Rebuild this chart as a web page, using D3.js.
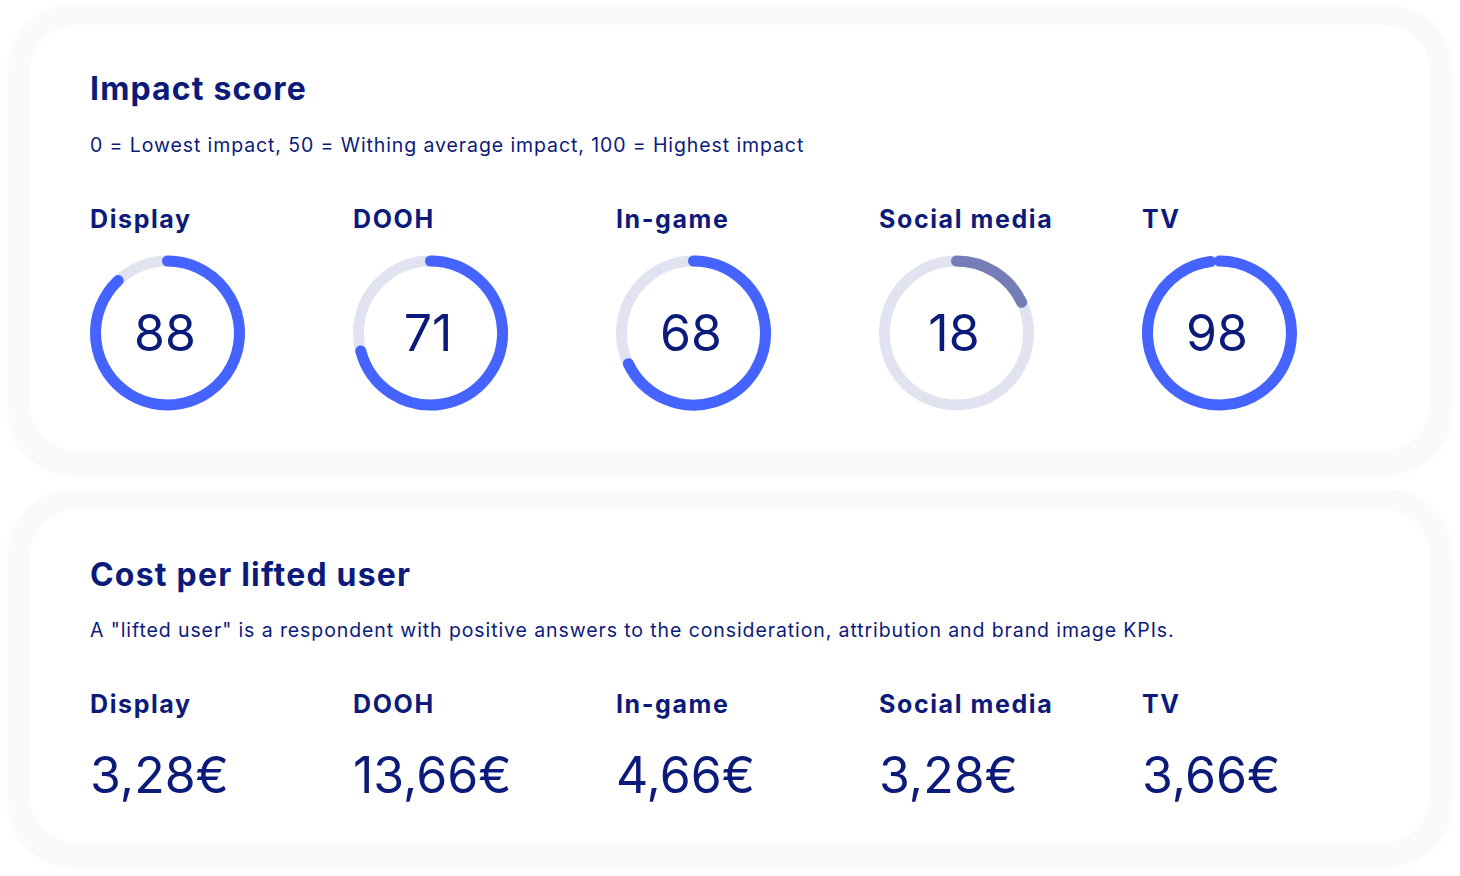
<!DOCTYPE html>
<html>
<head>
<meta charset="utf-8">
<script src="https://cdn.jsdelivr.net/npm/d3@7"></script>
<style>
  html, body { margin: 0; padding: 0; background: #ffffff; }
  svg { display: block; }
  text { font-family: "Inter", "Noto Sans", sans-serif; fill: #0c1b7a; }
</style>
</head>
<body>
<svg id="chart" width="1460" height="876"></svg>
<script>
// ---- data ----
const categories = ["Display", "DOOH", "In-game", "Social media", "TV"];
const impactScores = [88, 71, 68, 18, 98];
const costPerLiftedUser = [3.28, 13.66, 4.66, 3.28, 3.66];
const impactTitle = "Impact score";
const impactSubtitle = "0 = Lowest impact, 50 = Withing average impact, 100 = Highest impact";
const costTitle = "Cost per lifted user";
const costSubtitle = "A \"lifted user\" is a respondent with positive answers to the consideration, attribution and brand image KPIs.";

// ---- setup ----
const svg = d3.select("#chart");
const navy = "#0c1b7a";
const blue = "#4563ff";
const muted = "#757db6";
const track = "#e1e3f1";

const defs = svg.append("defs");
const f = defs.append("filter").attr("id", "shadow")
  .attr("x", "-5%").attr("y", "-5%").attr("width", "110%").attr("height", "115%");
f.append("feDropShadow").attr("dx", 0).attr("dy", 3).attr("stdDeviation", 3)
  .attr("flood-color", "#000").attr("flood-opacity", 0.045);

function card(y0, y1) {
  svg.append("rect")
    .attr("x", 10).attr("y", y0).attr("width", 1440).attr("height", y1 - y0)
    .attr("rx", 62).attr("ry", 62)
    .attr("fill", "#fafafa").attr("filter", "url(#shadow)");
  svg.append("rect")
    .attr("x", 30).attr("y", y0 + 20).attr("width", 1400).attr("height", y1 - y0 - 40)
    .attr("rx", 46).attr("ry", 46)
    .attr("fill", "#ffffff");
}
card(5, 470);
card(490, 862);

const x = d3.scaleBand().domain(categories).range([90, 90 + 263 * categories.length]).paddingInner(0).align(0);

// ---- card 1: impact score ----
svg.append("text").attr("x", 90).attr("y", 100)
  .attr("font-size", 32).attr("font-weight", 700).attr("letter-spacing", 1.15)
  .text(impactTitle);
svg.append("text").attr("x", 90).attr("y", 151.5)
  .attr("font-size", 19.5).attr("font-weight", 400).attr("letter-spacing", 0.9)
  .text(impactSubtitle);

const g1 = svg.append("g");
g1.selectAll("text.cat").data(categories).join("text")
  .attr("class", "cat")
  .attr("x", d => x(d)).attr("y", 228)
  .attr("font-size", 25).attr("font-weight", 700).attr("letter-spacing", 1.6)
  .text(d => d);

const r = 72, sw = 11;
const angle = d3.scaleLinear().domain([0, 100]).range([0, 2 * Math.PI]);
const cy = 333;

const gauges = g1.selectAll("g.gauge").data(categories.map((c, i) => ({ c, v: impactScores[i] })))
  .join("g").attr("class", "gauge")
  .attr("transform", d => `translate(${x(d.c) + r + sw / 2},${cy})`);

gauges.append("circle").attr("r", r)
  .attr("fill", "none").attr("stroke", track).attr("stroke-width", sw);

gauges.append("path")
  .attr("d", d => {
    const p = d3.path();
    const a0 = -Math.PI / 2;
    const a1 = a0 + angle(d.v);
    p.moveTo(r * Math.cos(a0), r * Math.sin(a0));
    p.arc(0, 0, r, a0, a1, false);
    return p.toString();
  })
  .attr("fill", "none")
  .attr("stroke", d => d.v < 50 ? muted : blue)
  .attr("stroke-width", sw)
  .attr("stroke-linecap", "round");

gauges.append("text")
  .attr("text-anchor", "middle").attr("dy", "0.36em").attr("dx", -2.5)
  .attr("font-size", 50).attr("font-weight", 400)
  .text(d => d.v);

// ---- card 2: cost per lifted user ----
svg.append("text").attr("x", 90).attr("y", 586)
  .attr("font-size", 32).attr("font-weight", 700).attr("letter-spacing", 1.2)
  .text(costTitle);
svg.append("text").attr("x", 90).attr("y", 636.5)
  .attr("font-size", 19.5).attr("font-weight", 400).attr("letter-spacing", 0.9)
  .text(costSubtitle);

const locale = d3.formatLocale({ decimal: ",", thousands: ".", grouping: [3], currency: ["", "€"] });
const fmt = locale.format("$.2f");

const g2 = svg.append("g");
g2.selectAll("text.cat").data(categories).join("text")
  .attr("class", "cat")
  .attr("x", d => x(d)).attr("y", 713)
  .attr("font-size", 25).attr("font-weight", 700).attr("letter-spacing", 1.6)
  .text(d => d);

g2.selectAll("text.val").data(categories.map((c, i) => ({ c, v: costPerLiftedUser[i] })))
  .join("text").attr("class", "val")
  .attr("x", d => x(d.c)).attr("y", 793)
  .attr("font-size", 50).attr("font-weight", 400).attr("letter-spacing", 0)
  .text(d => fmt(d.v));
</script>
</body>
</html>
